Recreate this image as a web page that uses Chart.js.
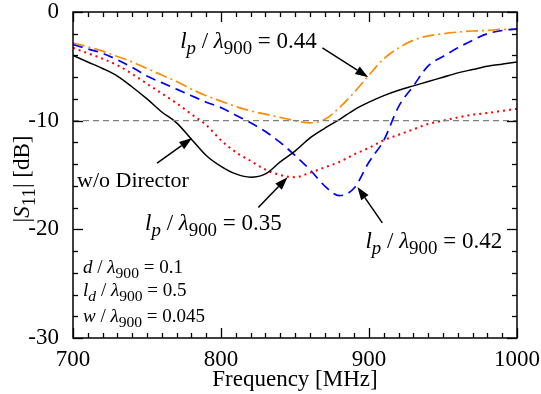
<!DOCTYPE html>
<html>
<head>
<meta charset="utf-8">
<script src="https://cdn.jsdelivr.net/npm/chart.js@4.4.0/dist/chart.umd.min.js"></script>
<style>
  html, body { margin: 0; padding: 0; background: #fff; }
</style>
</head>
<body>
<canvas id="s11Chart" width="541" height="394"></canvas>
<script>
// frequency in MHz, |S11| in dB
const freq = [700, 710, 720, 730, 740, 750, 760, 770, 780, 790, 800, 810, 820, 830, 840, 850,
              860, 870, 880, 890, 900, 910, 920, 930, 940, 950, 960, 970, 980, 990, 1000];
const noDirector = [-4.0, -4.6, -5.2, -5.9, -6.9, -8.0, -9.2, -10.2, -11.7, -13.2, -14.2, -14.9, -15.2, -14.9, -13.8, -12.8,
                    -11.6, -10.7, -9.9, -9.0, -8.3, -7.7, -7.2, -6.8, -6.4, -6.0, -5.6, -5.3, -5.0, -4.8, -4.6];
const lp044 = [-2.85, -3.2, -3.6, -4.1, -4.6, -5.2, -5.8, -6.4, -7.1, -7.7, -8.2, -8.7, -9.1, -9.4, -9.7, -10.0,
               -10.2, -9.9, -8.8, -7.4, -5.8, -4.3, -3.3, -2.6, -2.2, -2.0, -1.85, -1.75, -1.7, -1.6, -1.6];
const lp042 = [-3.0, -3.4, -3.8, -4.4, -5.1, -5.9, -6.5, -7.1, -7.7, -8.3, -8.8, -9.5, -10.2, -11.0, -12.0, -13.2,
               -14.5, -16.0, -16.9, -16.2, -13.8, -11.8, -8.7, -6.8, -4.95, -4.1, -3.3, -2.6, -2.0, -1.7, -1.55];
const lp035 = [-3.3, -3.8, -4.3, -4.9, -5.7, -6.6, -7.5, -8.4, -9.4, -10.4, -11.8, -12.9, -13.7, -14.5, -15.0, -15.2,
               -14.8, -14.3, -13.8, -13.1, -12.5, -11.8, -11.3, -10.8, -10.3, -10.0, -9.7, -9.45, -9.3, -9.1, -8.9];
const refLevel = -10;
const xTicks = [700, 800, 900, 1000];
const yTicks = [-30, -20, -10, 0];

const SERIF = '"Liberation Serif", "Times New Roman", serif';
const SUB = 0.82;

function pts(ys) {
  return freq.map((f, i) => ({ x: f, y: ys[i] }));
}

// rich text: parts = [{t, i, sub}]
function richWidth(ctx, parts, size) {
  let w = 0;
  parts.forEach(p => {
    ctx.font = (p.i ? 'italic ' : '') + (p.sub ? size * SUB : size) + 'px ' + SERIF;
    w += ctx.measureText(p.t).width;
  });
  return w;
}
function richText(ctx, parts, x, y, size) {
  ctx.textBaseline = 'alphabetic';
  ctx.textAlign = 'left';
  parts.forEach(p => {
    ctx.font = (p.i ? 'italic ' : '') + (p.sub ? size * SUB : size) + 'px ' + SERIF;
    ctx.fillText(p.t, x, y + (p.sub ? size * 0.27 : 0));
    x += ctx.measureText(p.t).width;
  });
}
function lpLabel(val) {
  return [{ t: 'l', i: true }, { t: 'p', i: true, sub: true }, { t: ' / ' },
          { t: 'λ', i: true }, { t: '900', sub: true }, { t: ' = ' + val }];
}
function lam(sym, symSub, val) {
  const p = [{ t: sym, i: true }];
  if (symSub) p.push({ t: symSub, i: true, sub: true });
  return p.concat([{ t: ' / ' }, { t: 'λ', i: true }, { t: '900', sub: true }, { t: ' = ' + val }]);
}

// labels and arrows placed in data coordinates
const notes = [
  { parts: lpLabel('0.44'), at: [772.4, -3.3], size: 23, arrow: [[868.5, -3.3], [899.5, -6.0]] },
  { parts: [{ t: 'w/o Director' }], at: [702.7, -16.1], size: 22, arrow: [[756.8, -13.9], [780.5, -11.6]] },
  { parts: lpLabel('0.35'), at: [748.7, -20.05], size: 23, arrow: [[825.2, -18.0], [845, -15.2]] },
  { parts: lpLabel('0.42'), at: [897.6, -21.7], size: 23, arrow: [[909, -19.4], [892.2, -16.1]] },
  { parts: lam('d', null, '0.1'), at: [706.8, -24.0], size: 19 },
  { parts: lam('l', 'd', '0.5'), at: [706.8, -26.15], size: 19 },
  { parts: lam('w', null, '0.045'), at: [706.8, -28.5], size: 19 }
];

function arrow(ctx, x1, y1, x2, y2) {
  const a = Math.atan2(y2 - y1, x2 - x1);
  const len = 13, half = 4.5;
  const bx = x2 - len * Math.cos(a), by = y2 - len * Math.sin(a);
  ctx.beginPath();
  ctx.moveTo(x1, y1);
  ctx.lineTo(bx, by);
  ctx.lineWidth = 1.5;
  ctx.strokeStyle = '#000';
  ctx.stroke();
  ctx.beginPath();
  ctx.moveTo(x2, y2);
  ctx.lineTo(bx + half * Math.sin(a), by - half * Math.cos(a));
  ctx.lineTo(bx - half * Math.sin(a), by + half * Math.cos(a));
  ctx.closePath();
  ctx.fillStyle = '#000';
  ctx.fill();
}

function tick(ctx, x1, y1, x2, y2) {
  ctx.beginPath();
  ctx.moveTo(x1, y1);
  ctx.lineTo(x2, y2);
  ctx.stroke();
}

const framePlugin = {
  id: 'frame',
  afterDraw(chart) {
    const { ctx, chartArea: ca, scales: { x, y } } = chart;
    ctx.save();
    ctx.setLineDash([]);
    ctx.strokeStyle = '#000000';
    ctx.lineWidth = 1.5;
    ctx.strokeRect(ca.left, ca.top, ca.right - ca.left, ca.bottom - ca.top);
    // inward ticks, minor every 10 MHz / 2 dB
    ctx.lineWidth = 1.3;
    for (let v = 700; v <= 1000; v += 10) {
      const px = Math.round(x.getPixelForValue(v)) + 0.5;
      const l = v % 100 === 0 ? 10 : 5;
      tick(ctx, px, ca.bottom, px, ca.bottom - l);
      tick(ctx, px, ca.top, px, ca.top + l);
    }
    for (let v = -30; v <= 0; v += 2) {
      const py = Math.round(y.getPixelForValue(v)) + 0.5;
      const l = v % 10 === 0 ? 10 : 5;
      tick(ctx, ca.left, py, ca.left + l, py);
      tick(ctx, ca.right, py, ca.right - l, py);
    }
    // annotations
    ctx.fillStyle = '#000';
    notes.forEach(n => {
      richText(ctx, n.parts, x.getPixelForValue(n.at[0]), y.getPixelForValue(n.at[1]), n.size);
      if (n.arrow) {
        arrow(ctx, x.getPixelForValue(n.arrow[0][0]), y.getPixelForValue(n.arrow[0][1]),
                   x.getPixelForValue(n.arrow[1][0]), y.getPixelForValue(n.arrow[1][1]));
      }
    });
    // y axis title
    const yt = [{ t: '|' }, { t: 'S', i: true }, { t: '11', sub: true }, { t: '| [dB]' }];
    const w = richWidth(ctx, yt, 23);
    ctx.translate(29, 179);
    ctx.rotate(-Math.PI / 2);
    ctx.fillStyle = '#000';
    richText(ctx, yt, -w / 2, 0, 23);
    ctx.restore();
  }
};

const ctx = document.getElementById('s11Chart').getContext('2d');
const s11Chart = new Chart(ctx, {
  type: 'line',
  data: {
    datasets: [
      {
        label: '-10 dB',
        data: [{ x: freq[0], y: refLevel }, { x: freq[freq.length - 1], y: refLevel }],
        borderColor: '#7f7f7f', borderWidth: 1.3, borderDash: [6, 4]
      },
      {
        label: 'w/o Director',
        data: pts(noDirector),
        borderColor: '#000000', borderWidth: 1.5
      },
      {
        label: 'lp/λ900 = 0.35',
        data: pts(lp035),
        borderColor: '#ff0000', borderWidth: 2, borderDash: [2, 4]
      },
      {
        label: 'lp/λ900 = 0.42',
        data: pts(lp042),
        borderColor: '#0000ff', borderWidth: 1.7, borderDash: [10, 6]
      },
      {
        label: 'lp/λ900 = 0.44',
        data: pts(lp044),
        borderColor: '#ff8c00', borderWidth: 1.7, borderDash: [12, 4, 2, 4]
      }
    ]
  },
  options: {
    responsive: false,
    animation: false,
    layout: { padding: { top: 12, right: 24, left: 0, bottom: 0 } },
    elements: {
      point: { radius: 0 },
      line: { cubicInterpolationMode: 'monotone', fill: false }
    },
    plugins: {
      legend: { display: false },
      tooltip: { enabled: false }
    },
    scales: {
      x: {
        type: 'linear',
        min: 700, max: 1000,
        afterFit: s => { s.height = 56; s.paddingLeft = 0; s.paddingRight = 0; },
        afterBuildTicks: s => { s.ticks = xTicks.map(v => ({ value: v })); },
        grid: { display: false },
        border: { display: false },
        ticks: { color: '#000', font: { family: SERIF, size: 23 }, padding: 0, maxRotation: 0, callback: v => String(v) },
        title: { display: true, text: 'Frequency [MHz]', color: '#000', font: { family: SERIF, size: 23 }, padding: { top: 0, bottom: 0 } }
      },
      y: {
        min: -30, max: 0,
        afterFit: s => { s.width = 73; s.paddingTop = 0; s.paddingBottom = 0; },
        afterBuildTicks: s => { s.ticks = yTicks.map(v => ({ value: v })); },
        grid: { display: false },
        border: { display: false },
        ticks: { color: '#000', font: { family: SERIF, size: 23 }, padding: 6, callback: v => String(v) }
      }
    }
  },
  plugins: [framePlugin]
});
</script>
</body>
</html>
